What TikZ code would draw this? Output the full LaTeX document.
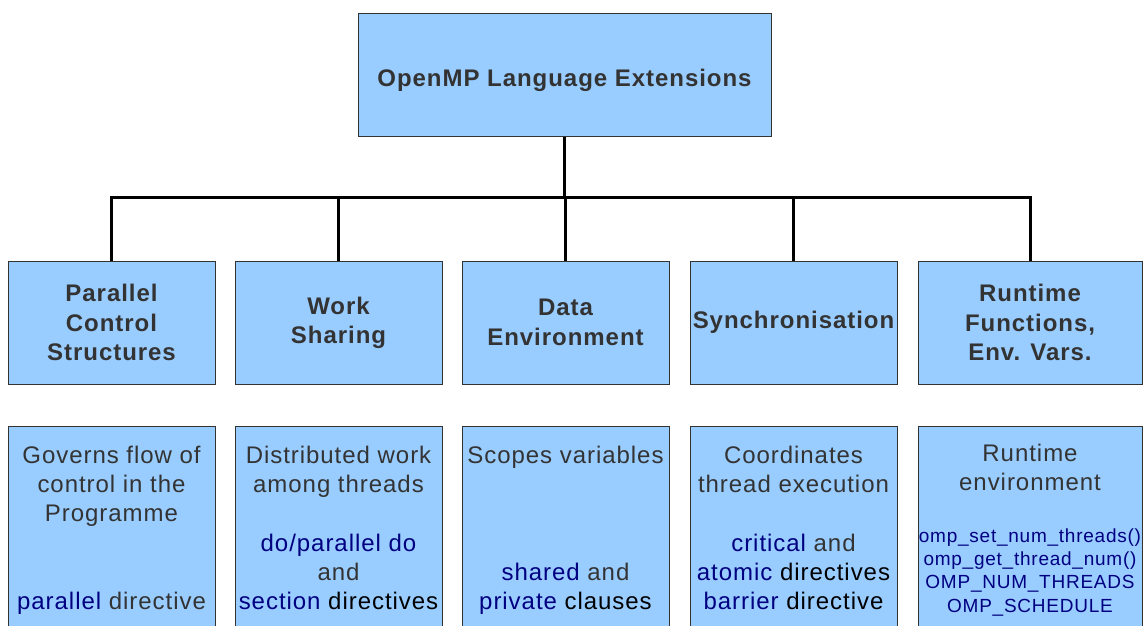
\documentclass[tikz,border=0pt]{standalone}
\usepackage{fontspec}
\setmainfont{Liberation Sans}[LetterSpace=4]
\usetikzlibrary{positioning}

\definecolor{boxBlue}{HTML}{99CCFF}
\definecolor{txtGray}{HTML}{333333}
\definecolor{kwNavy}{HTML}{000080}
\newcommand{\kw}[1]{\textcolor{kwNavy}{#1}}
\newcommand{\blk}[1]{\textcolor{black}{#1}}

\begin{document}
\begin{tikzpicture}[
    x=0.5pt, y=-0.5pt,
    every node/.style={align=center, text=txtGray},
    topbox/.style={
      rectangle, draw=black!80, fill=boxBlue, line width=0.5pt,
      minimum width=206.5pt, minimum height=61.75pt, inner sep=0pt,
      font=\fontsize{12}{14.65}\selectfont\bfseries,
      text height=12pt, text depth=0pt
    },
    catbox/.style={
      rectangle, draw=black!80, fill=boxBlue, line width=0.5pt,
      minimum width=103.5pt, minimum height=61.5pt, inner sep=0pt,
      font=\fontsize{12}{14.65}\selectfont\bfseries
    },
    infobox/.style={
      rectangle, draw=black!80, fill=boxBlue, line width=0.5pt,
      minimum width=103.5pt, minimum height=110pt, anchor=north
    },
    infotext/.style={inner sep=0pt, font=\fontsize{12}{14.65}\selectfont},
    smalltext/.style={inner sep=0pt, text=kwNavy, font=\fontsize{9.5}{11.6}\selectfont},
    tree/.style={draw=black, line width=1.5pt}
  ]
    \useasboundingbox (0,0) rectangle (1147,626);
    \clip (0,0) rectangle (1147,626);

    % root
    \node[topbox] (top) at (564.5,75) {OpenMP Language Extensions};
    \coordinate[below=30.25pt of top] (bus);

    % categories
    \node[catbox] (m1) at (111.5,322.5) {Parallel\\Control\\Structures};
    \node[catbox] (m2) at (338.5,322.5) {Work\\Sharing};
    \node[catbox] (m3) at (565.5,322.5) {Data\\Environment};
    \node[catbox] (m4) at (793.5,322.5) {Synchronisation};
    \node[catbox, minimum width=112pt] (m5) at (1030,322.5) {Runtime\\Functions,\\Env. Vars.};

    \draw[tree] (top.south) -- (bus);
    \foreach \c in {m1,m2,m3,m4,m5} {
      \draw[tree] (bus) -| (\c.north);
    }

    % descriptions
    \node[infobox] (d1) at (111.5,426) {};
    \node[infobox] (d2) at (338.5,426) {};
    \node[infobox] (d3) at (565.5,426) {};
    \node[infobox] (d4) at (793.5,426) {};
    \node[infobox, minimum width=112pt] (d5) at (1030,426) {};

    \node[infotext, below=9.75pt of d1.north] (t1)
      {Governs flow of\\control in the\\Programme\\[29.3pt]\kw{parallel} directive};
    \node[infotext, below=9.75pt of d2.north] (t2)
      {Distributed work\\among threads\\[14.65pt]\kw{do/parallel do}\\and\\\kw{section} \blk{directives}};
    \node[infotext, below=9.75pt of d3.north] (t3)
      {Scopes variables\\[43.95pt]\kw{shared} and\\\kw{private} \blk{clauses}};
    \node[infotext, below=9.75pt of d4.north] (t4)
      {Coordinates\\thread execution\\[14.65pt]\kw{critical} and\\\kw{atomic} \blk{directives}\\\kw{barrier} \blk{directive}};
    \node[infotext, below=8.75pt of d5.north] (t5) {Runtime\\environment};
    \node[smalltext, below=18.6pt of t5] (t6)
      {omp\_set\_num\_threads()\\omp\_get\_thread\_num()\\OMP\_NUM\_THREADS\\OMP\_SCHEDULE};
\end{tikzpicture}
\end{document}
